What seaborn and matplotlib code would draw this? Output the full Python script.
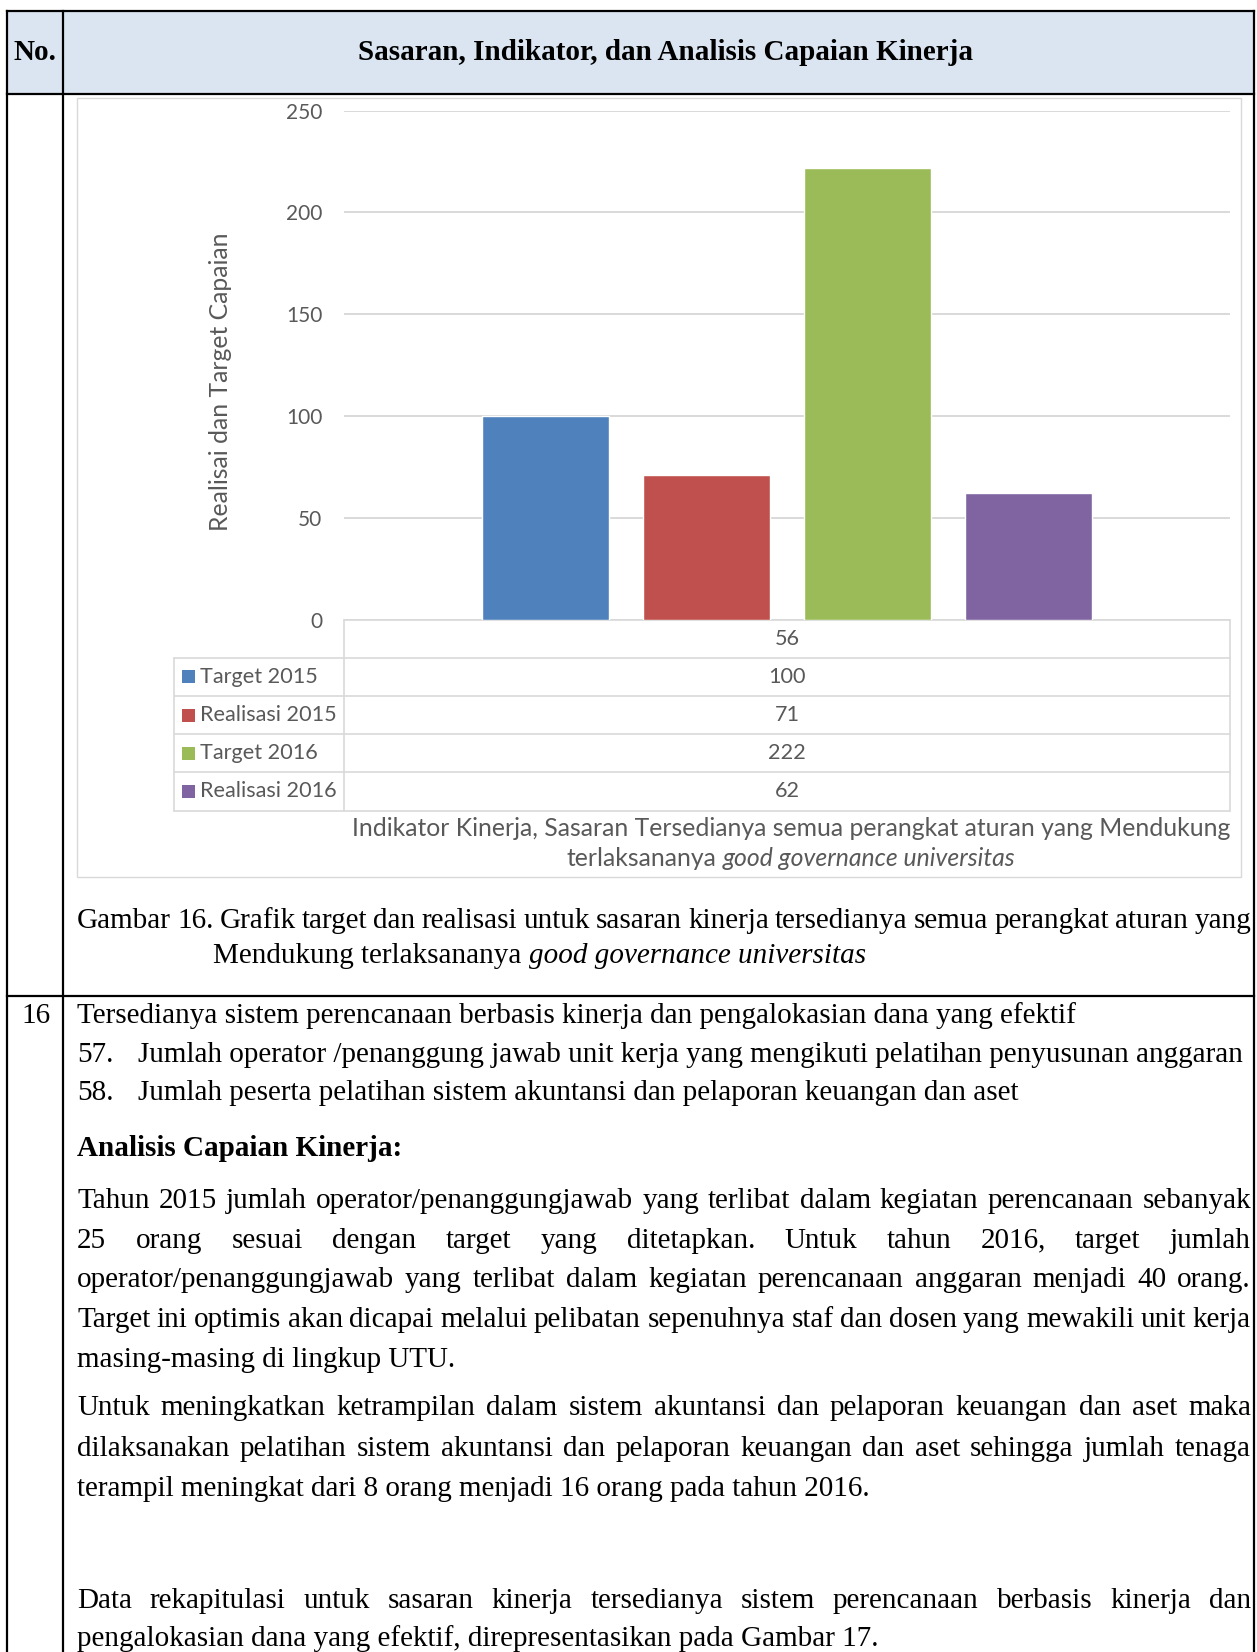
import numpy as np
import pandas as pd
import matplotlib
matplotlib.use("Agg")
import matplotlib.pyplot as plt
import seaborn as sns
from matplotlib.patches import Rectangle

# ---------------- chart data ----------------
categories = ["56"]
series = ["Target 2015", "Realisasi 2015", "Target 2016", "Realisasi 2016"]
values = [100, 71, 222, 62]
colors = ["#4F81BD", "#C0504D", "#9BBB59", "#8064A2"]
y_ticks = [0, 50, 100, 150, 200, 250]

y_title = "Realisai dan Target Capaian"
x_title_1 = "Indikator Kinerja, Sasaran Tersedianya semua perangkat aturan yang Mendukung"
x_title_2 = [("terlaksananya", "normal"), ("good governance universitas", "italic")]

# ---------------- page text ----------------
header_no = "No."
header_title = "Sasaran, Indikator, dan Analisis Capaian Kinerja"
caption_1 = "Gambar 16. Grafik target dan realisasi untuk sasaran kinerja tersedianya semua perangkat aturan yang"
caption_2 = [("Mendukung terlaksananya", "normal"), ("good governance universitas", "italic")]
row_number = "16"
goal = "Tersedianya sistem perencanaan berbasis kinerja dan pengalokasian dana yang efektif"
indicator_numbers = ["57.", "58."]
indicator_texts = [
    "Jumlah operator /penanggung jawab unit kerja yang mengikuti pelatihan penyusunan anggaran",
    "Jumlah peserta pelatihan sistem akuntansi dan pelaporan keuangan dan aset",
]
analysis_heading = "Analisis Capaian Kinerja:"
paragraph_1 = [
    "Tahun 2015 jumlah operator/penanggungjawab yang terlibat dalam kegiatan perencanaan sebanyak",
    "25 orang sesuai dengan target yang ditetapkan. Untuk tahun 2016, target jumlah",
    "operator/penanggungjawab yang terlibat dalam kegiatan perencanaan anggaran menjadi 40 orang.",
    "Target ini optimis akan dicapai melalui pelibatan sepenuhnya staf dan dosen yang mewakili unit kerja",
    "masing-masing di lingkup UTU.",
]
paragraph_2 = [
    "Untuk meningkatkan ketrampilan dalam sistem akuntansi dan pelaporan keuangan dan aset maka",
    "dilaksanakan pelatihan sistem akuntansi dan pelaporan keuangan dan aset sehingga jumlah tenaga",
    "terampil meningkat dari 8 orang menjadi 16 orang pada tahun 2016.",
]
paragraph_3 = [
    "Data rekapitulasi untuk sasaran kinerja tersedianya sistem perencanaan berbasis kinerja dan",
    "pengalokasian dana yang efektif, direpresentasikan pada Gambar 17.",
]

# ---------------- styling ----------------
sns.set_style("white")
SERIF = "Liberation Serif"
CHART_FONT = "Lato"
BODY_SIZE = 21
TICK_SIZE = 15
TABLE_SIZE = 15.6
TITLE_SIZE = 17.8
CHART_TEXT = "#595959"
CHART_LINE = "#D9D9D9"
plt.rcParams["font.family"] = [CHART_FONT, "DejaVu Sans"]

W, H = 1257, 1652
fig = plt.figure(figsize=(W / 100, H / 100), dpi=100)
fig.patch.set_facecolor("white")

# full-page layer in pixel units (y grows downward)
page = fig.add_axes([0, 0, 1, 1], zorder=0)
page.set_xlim(0, W)
page.set_ylim(H, 0)
page.axis("off")

renderer = fig.canvas.get_renderer()


def text_width(s, **kw):
    t = page.text(0, 0, s, **kw)
    w = t.get_window_extent(renderer).width
    t.remove()
    return w


def space_width(**kw):
    return text_width("n n", **kw) - text_width("nn", **kw)


def justify(y, line, x0, x1, **kw):
    words = line.split(" ")
    widths = [text_width(w, **kw) for w in words]
    gap = (x1 - x0 - sum(widths)) / max(len(words) - 1, 1)
    x = x0
    for word, wd in zip(words, widths):
        page.text(x, y, word, ha="left", va="baseline", **kw)
        x += wd + gap


def runs(x, y, parts, ha="left", va="baseline", **kw):
    sp = space_width(**kw)
    widths = [text_width(t, fontstyle=st, **kw) for t, st in parts]
    total = sum(widths) + sp * (len(parts) - 1)
    if ha == "center":
        x = x - total / 2
    for (t, st), wd in zip(parts, widths):
        page.text(x, y, t, fontstyle=st, ha="left", va=va, **kw)
        x += wd + sp


body = dict(fontfamily=SERIF, fontsize=BODY_SIZE, color="black")

# ---------------- document table frame ----------------
LEFT, DIV, RIGHT = 7, 62.5, 1254
TOP, HEAD_BOT, ROW_SEP = 11, 94, 996
page.add_patch(Rectangle((LEFT, TOP), RIGHT - LEFT, HEAD_BOT - TOP,
                         facecolor="#DBE5F1", edgecolor="none", zorder=1))
frame_kw = dict(color="black", lw=1.6, zorder=3, solid_capstyle="projecting")
for yy in (TOP, HEAD_BOT, ROW_SEP):
    page.plot([LEFT, RIGHT], [yy, yy], **frame_kw)
for xx in (LEFT, DIV, RIGHT):
    page.plot([xx, xx], [TOP, H + 5], **frame_kw)

page.text((LEFT + DIV) / 2, 60, header_no, ha="center", va="baseline",
          fontweight="bold", **body)
page.text(666, 60, header_title, ha="center", va="baseline",
          fontweight="bold", **body)

# chart frame
page.add_patch(Rectangle((77, 98), 1241 - 77, 877 - 98, facecolor="white",
                         edgecolor=CHART_LINE, lw=1.0, zorder=1))

# ---------------- bar chart ----------------
AX_L, AX_R, AX_T, AX_B = 344, 1230, 110.7, 619.5
ax = fig.add_axes([AX_L / W, 1 - AX_B / H, (AX_R - AX_L) / W, (AX_B - AX_T) / H], zorder=2)
ax.set_facecolor("none")

df = pd.DataFrame({
    "Indikator": categories * len(series),
    "Seri": series,
    "Nilai": values,
})
sns.barplot(data=df, x="Indikator", y="Nilai", hue="Seri", hue_order=series,
            palette=colors, saturation=1, width=0.7277, gap=0.211,
            errorbar=None, legend=False, ax=ax)

ax.set_ylim(0, 250)
ax.set_yticks(y_ticks)
ax.set_xlim(-0.5, 0.5)
ax.yaxis.grid(True, color=CHART_LINE, lw=1.4)
ax.set_axisbelow(True)
for s in ax.spines.values():
    s.set_visible(False)
ax.tick_params(axis="x", length=0, labelbottom=False)
ax.tick_params(axis="y", length=0, pad=15.5, labelsize=TICK_SIZE, labelcolor=CHART_TEXT)
ax.set_xlabel("")
ax.set_ylabel(y_title, fontsize=TITLE_SIZE, color=CHART_TEXT)
ax.yaxis.set_label_coords((220 - AX_L) / (AX_R - AX_L), (AX_B - 382) / (AX_B - AX_T))
ax.yaxis.label.set_va("center")

# data table under the plot
fig.canvas.draw()
bb = ax.get_window_extent(renderer)
t_left, t_right = bb.x0, bb.x1
t_top = H - bb.y0
cat_x = ax.transData.transform((0, 0))[0]
ROW_H = 38.2
LEG_L = 174
edges = [t_top + i * ROW_H for i in range(len(series) + 2)]
line_kw = dict(color=CHART_LINE, lw=1.2, zorder=2)
page.plot([t_left, t_right], [edges[0], edges[0]], **line_kw)
for e in edges[1:]:
    page.plot([LEG_L, t_right], [e, e], **line_kw)
page.plot([t_left, t_left], [edges[0], edges[-1]], **line_kw)
page.plot([t_right, t_right], [edges[0], edges[-1]], **line_kw)
page.plot([LEG_L, LEG_L], [edges[1], edges[-1]], **line_kw)

chart_txt = dict(fontfamily=CHART_FONT, color=CHART_TEXT, zorder=3)
page.text(cat_x, (edges[0] + edges[1]) / 2, categories[0], ha="center", va="center",
          fontsize=TABLE_SIZE, **chart_txt)
for i, (name, val, col) in enumerate(zip(series, values, colors)):
    yc = (edges[i + 1] + edges[i + 2]) / 2
    page.add_patch(Rectangle((182, yc - 6.5), 13, 13, facecolor=col, edgecolor="none", zorder=3))
    page.text(200.5, yc, name, ha="left", va="center", fontsize=TABLE_SIZE, **chart_txt)
    page.text(cat_x, yc, str(val), ha="center", va="center", fontsize=TABLE_SIZE, **chart_txt)

# axis title below the table
page.text(791, 828, x_title_1, ha="center", va="center", fontsize=TITLE_SIZE, **chart_txt)
runs(791, 858, x_title_2, ha="center", va="center", fontsize=TITLE_SIZE, **chart_txt)

# ---------------- caption ----------------
justify(928, caption_1, 77, 1251, **body)
runs(213, 963, caption_2, **body)

# ---------------- second row ----------------
page.text(36.5, 1023, row_number, ha="center", va="baseline", **body)
page.text(77, 1023, goal, ha="left", va="baseline", **body)
for yy, num, txt in zip([1062, 1100], indicator_numbers, indicator_texts):
    page.text(77, yy, num, ha="left", va="baseline", **body)
    page.text(138, yy, txt, ha="left", va="baseline", **body)
page.text(77, 1156, analysis_heading, ha="left", va="baseline", fontweight="bold", **body)


def paragraph(y0, lines, step):
    for i, ln in enumerate(lines):
        y = y0 + i * step
        if i < len(lines) - 1:
            justify(y, ln, 77, 1251, **body)
        else:
            page.text(77, y, ln, ha="left", va="baseline", **body)


paragraph(1208, paragraph_1, 39.7)
paragraph(1415, paragraph_2, 40.5)
paragraph(1608, paragraph_3, 37.5)

fig.savefig("out.png", dpi=100)
